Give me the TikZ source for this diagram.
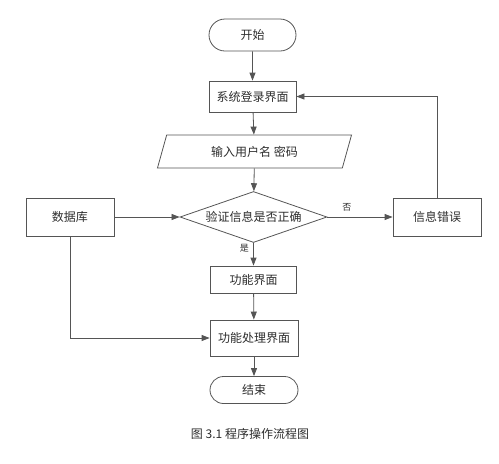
\documentclass[tikz,border=0pt]{standalone}
\usepackage{fontspec}
\setmainfont{Noto Sans CJK SC}
\definecolor{flow_line}{RGB}{85, 85, 85}
\definecolor{flow_text}{RGB}{45, 45, 45}
\usetikzlibrary{arrows.meta, positioning, shapes.geometric, shapes.misc}

\begin{document}
\begin{tikzpicture}[x=1pt, y=-1pt, font=\fontsize{12}{14}\selectfont,
    line width=0.8pt,
    box/.style={draw=flow_line, rectangle, text=flow_text, inner sep=0pt,
      minimum width=87pt, minimum height=31pt},
    term/.style={draw=flow_line, rounded rectangle, text=flow_text, inner sep=0pt,
      minimum width=87pt, minimum height=32pt},
    io/.style={draw=flow_line, trapezium, trapezium left angle=68,
      trapezium right angle=112, trapezium stretches=true, text=flow_text,
      inner sep=0pt, minimum width=195pt, minimum height=33pt},
    test/.style={draw=flow_line, diamond, aspect=2.9, text=flow_text,
      inner sep=0pt, minimum width=147pt, minimum height=51pt},
    flow/.style={draw=flow_line, -{Triangle[length=8pt, width=6pt]}},
    tag/.style={font=\fontsize{9}{10}\selectfont, text=flow_text}]
        \useasboundingbox (0,0) rectangle (499,464);
        % Noeuds du schema
        \node[term] (start) at (252.5,35) {开始};
        \node[box]  (login) at (252.5,96.5) {系统登录界面};
        \node[io]   (input) at (254.5,151.5) {输入用户名 密码};
        \node[test] (check) at (253.5,217) {验证信息是否正确};
        \node[box, minimum width=88pt, minimum height=38pt] (db)  at (70,217) {数据库};
        \node[box, minimum width=88pt, minimum height=38pt] (err) at (437,217) {信息错误};
        \node[box, minimum width=86pt, minimum height=27pt] (func) at (253.5,279.5) {功能界面};
        \node[box, minimum width=88pt, minimum height=36pt] (work) at (254,338) {功能处理界面};
        \node[term, minimum width=88pt, minimum height=27pt] (stop) at (254,390) {结束};
        \node[text=flow_text] (caption) at (250,434) {图 3.1 程序操作流程图};
        % Fleches
        \draw[flow] (start) -- (login);
        \draw[flow] (login) -- (input);
        \draw[flow] (input) -- (check);
        \draw[flow] (db) -- (check);
        \draw[flow] (check) -- node[tag, pos=0.3, above=2pt] (no) {否} (err);
        \draw[flow] (err.north) |- (login.east);
        \draw[flow] (check) -- node[tag, pos=0.25, left=1pt] (yes) {是} (func);
        \draw[flow] (func) -- (work);
        \draw[flow] (db.south) |- (work.west);
        \draw[flow] (work) -- (stop);
      \end{tikzpicture}
\end{document}
